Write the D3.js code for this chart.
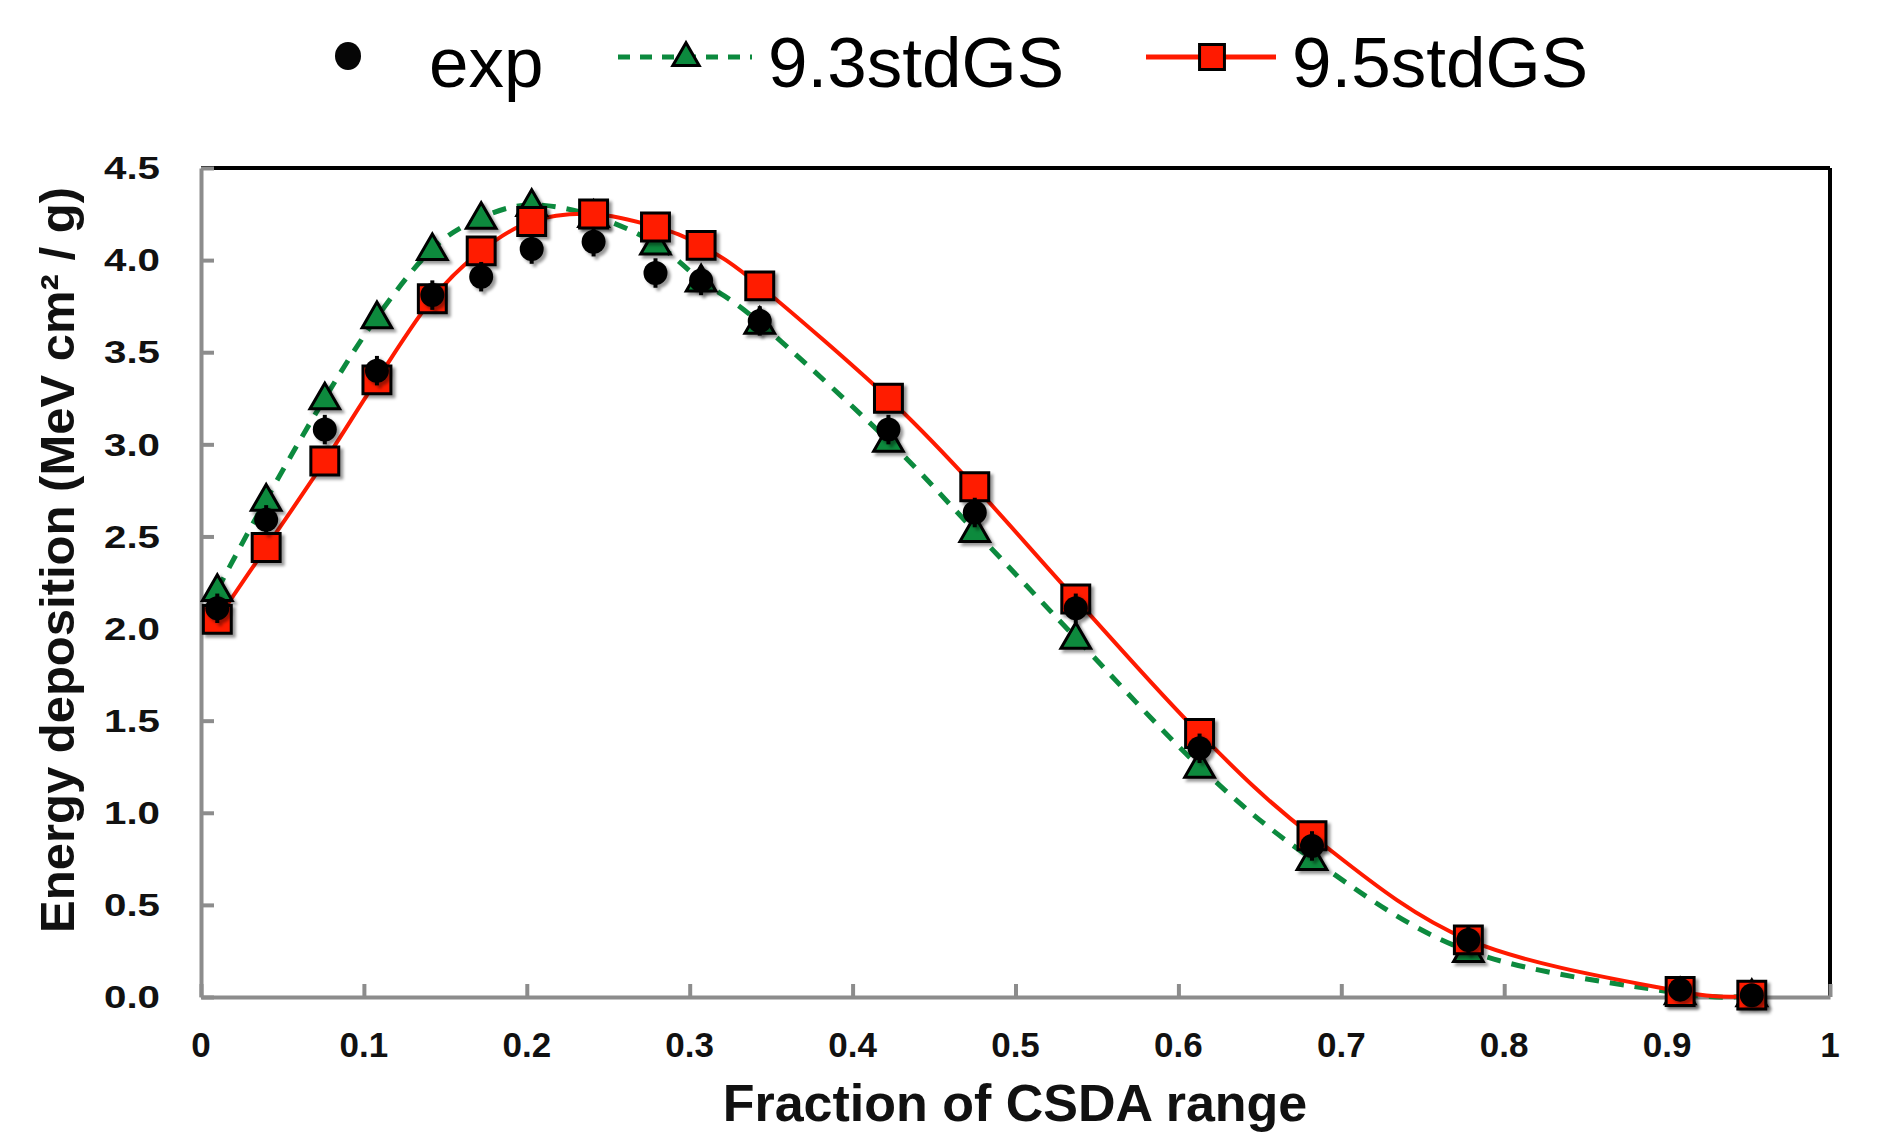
<!DOCTYPE html>
<html>
<head>
<meta charset="utf-8">
<script src="https://cdn.jsdelivr.net/npm/d3@7"></script>
<style>
  body { margin: 0; background: #fff; }
  svg { display: block; font-family: "Liberation Sans", Arial, sans-serif; }
</style>
</head>
<body>
<svg id="chart" width="1881" height="1137"></svg>
<script>
// fraction of CSDA range (shared by all three series)
const fraction = [0.01, 0.04, 0.076, 0.108, 0.142, 0.172, 0.203, 0.241, 0.279, 0.307,
                  0.343, 0.422, 0.475, 0.537, 0.613, 0.682, 0.778, 0.908, 0.952];

const exp     = [2.11, 2.59, 3.08, 3.40, 3.81, 3.91, 4.06, 4.10, 3.93, 3.89,
                 3.67, 3.08, 2.63, 2.11, 1.35, 0.82, 0.31, 0.04, 0.01];
const expErr  = [0.08, 0.08, 0.08, 0.08, 0.08, 0.08, 0.08, 0.08, 0.08, 0.08,
                 0.08, 0.08, 0.08, 0.08, 0.08, 0.08, 0.08, 0.04, 0.02];
const std93   = [2.21, 2.70, 3.25, 3.69, 4.06, 4.23, 4.30, 4.24, 4.09, 3.89,
                 3.66, 3.02, 2.53, 1.95, 1.25, 0.75, 0.25, 0.02, 0.01];
const std95   = [2.05, 2.44, 2.91, 3.35, 3.79, 4.05, 4.21, 4.25, 4.18, 4.08,
                 3.86, 3.25, 2.77, 2.16, 1.43, 0.875, 0.31, 0.03, 0.01];

const xTicks = [0, 0.1, 0.2, 0.3, 0.4, 0.5, 0.6, 0.7, 0.8, 0.9, 1];
const xTickLabels = ["0", "0.1", "0.2", "0.3", "0.4", "0.5", "0.6", "0.7", "0.8", "0.9", "1"];
const yTicks = [0, 0.5, 1, 1.5, 2, 2.5, 3, 3.5, 4, 4.5];
const yTickLabels = ["0.0", "0.5", "1.0", "1.5", "2.0", "2.5", "3.0", "3.5", "4.0", "4.5"];

const seriesNames = ["exp", "9.3stdGS", "9.5stdGS"];

const RED = "#ff1a00", GREEN = "#0c8a3e", AXIS_GRAY = "#8c8c8c";

const svg = d3.select("#chart");
const plotLeft = 201, plotRight = 1830, plotTop = 168, plotBottom = 997;

const x = d3.scaleLinear().domain([0, 1]).range([plotLeft, plotRight]);
const y = d3.scaleLinear().domain([0, 4.5]).range([plotBottom, plotTop]);

// marker drop shadow
const defs = svg.append("defs");
const shadow = defs.append("filter").attr("id", "shadow")
   .attr("x", "-40%").attr("y", "-40%").attr("width", "180%").attr("height", "180%");
shadow.append("feDropShadow").attr("dx", 3).attr("dy", 3)
   .attr("stdDeviation", 1.5).attr("flood-color", "#000").attr("flood-opacity", 0.4);

// black frame on top and right
svg.append("line").attr("x1", plotLeft).attr("x2", plotRight).attr("y1", plotTop).attr("y2", plotTop)
   .attr("stroke", "#000").attr("stroke-width", 4);
svg.append("line").attr("x1", plotRight).attr("x2", plotRight).attr("y1", plotTop).attr("y2", plotBottom)
   .attr("stroke", "#000").attr("stroke-width", 4);

// gray axes with inward ticks
const yAxis = svg.append("g").attr("transform", `translate(${plotLeft},0)`)
   .call(d3.axisLeft(y).tickValues(yTicks).tickSizeInner(-13).tickSizeOuter(0).tickFormat(""));
const xAxis = svg.append("g").attr("transform", `translate(0,${plotBottom})`)
   .call(d3.axisBottom(x).tickValues(xTicks).tickSizeInner(-13).tickSizeOuter(0).tickFormat(""));
[xAxis, yAxis].forEach(g => {
   g.select(".domain").attr("stroke", AXIS_GRAY).attr("stroke-width", 4);
   g.selectAll(".tick line").attr("stroke", AXIS_GRAY).attr("stroke-width", 4);
});

// tick labels
svg.append("g").selectAll("text").data(yTicks).join("text")
   .attr("transform", d => `translate(160,${y(d)}) scale(1.3,1)`)
   .attr("dy", "0.36em").attr("text-anchor", "end")
   .attr("font-size", 31).attr("font-weight", "bold").attr("fill", "#111")
   .text((d, i) => yTickLabels[i]);

svg.append("g").selectAll("text").data(xTicks).join("text")
   .attr("x", d => x(d)).attr("y", 1057)
   .attr("text-anchor", "middle").attr("font-size", 35).attr("font-weight", "bold").attr("fill", "#111")
   .text((d, i) => xTickLabels[i]);

// axis titles
svg.append("text").attr("x", 1015).attr("y", 1121).attr("text-anchor", "middle")
   .attr("font-size", 52).attr("font-weight", "bold").attr("fill", "#111")
   .text("Fraction of CSDA range");
svg.append("text").attr("transform", "translate(74,560) rotate(-90)").attr("text-anchor", "middle")
   .attr("font-size", 49).attr("font-weight", "bold").attr("fill", "#111")
   .text("Energy deposition (MeV cm² / g)");

// smoothed model curves
const pts = vals => fraction.map((f, i) => [f, vals[i]]);
const line = d3.line().x(d => x(d[0])).y(d => y(d[1])).curve(d3.curveCatmullRom.alpha(0));

svg.append("path").attr("d", line(pts(std93))).attr("fill", "none")
   .attr("stroke", GREEN).attr("stroke-width", 5).attr("stroke-dasharray", "14 11");
svg.append("path").attr("d", line(pts(std95))).attr("fill", "none")
   .attr("stroke", RED).attr("stroke-width", 4);

const tri = d3.symbol().type(d3.symbolTriangle).size(380);
const sq = d3.symbol().type(d3.symbolSquare).size(780);

// markers: triangles, squares, then experimental points on top
svg.append("g").attr("filter", "url(#shadow)").selectAll("path").data(pts(std93)).join("path")
   .attr("d", tri).attr("transform", d => `translate(${x(d[0])},${y(d[1]) + 2})`)
   .attr("fill", GREEN).attr("stroke", "#000").attr("stroke-width", 3);

svg.append("g").attr("filter", "url(#shadow)").selectAll("path").data(pts(std95)).join("path")
   .attr("d", sq).attr("transform", d => `translate(${x(d[0])},${y(d[1])})`)
   .attr("fill", RED).attr("stroke", "#000").attr("stroke-width", 3);

const expG = svg.append("g").attr("filter", "url(#shadow)");
expG.selectAll("line").data(pts(exp)).join("line")
   .attr("x1", d => x(d[0])).attr("x2", d => x(d[0]))
   .attr("y1", (d, i) => y(d[1] + expErr[i])).attr("y2", (d, i) => y(d[1] - expErr[i]))
   .attr("stroke", "#000").attr("stroke-width", 4);
expG.selectAll("circle").data(pts(exp)).join("circle")
   .attr("cx", d => x(d[0])).attr("cy", d => y(d[1])).attr("r", 12).attr("fill", "#060606");

// legend
const lg = svg.append("g");
lg.append("ellipse").attr("cx", 348).attr("cy", 56).attr("rx", 13).attr("ry", 14).attr("fill", "#060606");
lg.append("text").attr("x", 429).attr("y", 87).attr("font-size", 71).attr("fill", "#000").text(seriesNames[0]);

lg.append("line").attr("x1", 618).attr("x2", 752).attr("y1", 57).attr("y2", 57)
   .attr("stroke", GREEN).attr("stroke-width", 5).attr("stroke-dasharray", "12 10");
lg.append("path").attr("d", d3.symbol().type(d3.symbolTriangle).size(300))
   .attr("transform", "translate(686,58)").attr("fill", GREEN).attr("stroke", "#000").attr("stroke-width", 3);
lg.append("text").attr("x", 768).attr("y", 87).attr("font-size", 71).attr("fill", "#000").text(seriesNames[1]);

lg.append("line").attr("x1", 1146).attr("x2", 1276).attr("y1", 57).attr("y2", 57)
   .attr("stroke", RED).attr("stroke-width", 5);
lg.append("path").attr("d", d3.symbol().type(d3.symbolSquare).size(620))
   .attr("transform", "translate(1212,57)").attr("fill", RED).attr("stroke", "#000").attr("stroke-width", 3);
lg.append("text").attr("x", 1292).attr("y", 87).attr("font-size", 71).attr("fill", "#000").text(seriesNames[2]);
</script>
</body>
</html>
